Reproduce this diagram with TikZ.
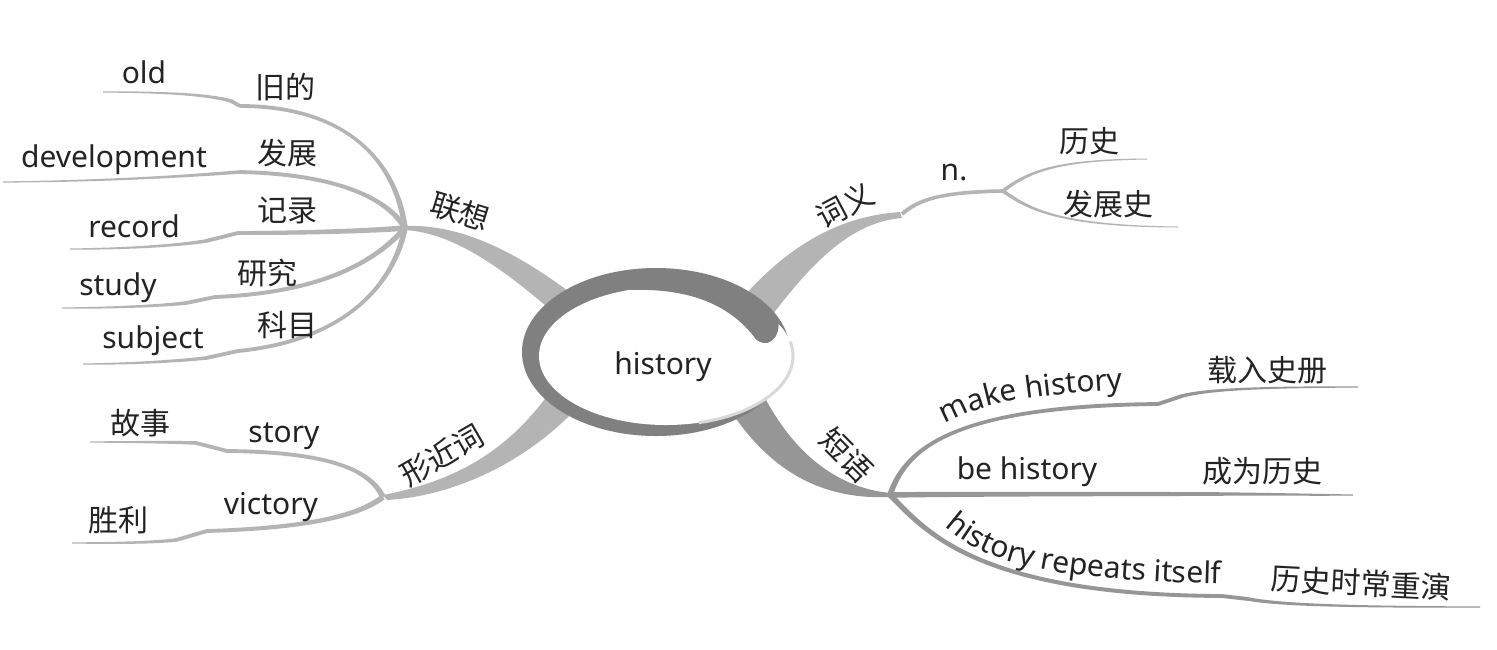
\documentclass[tikz,border=0pt]{standalone}
\usepackage{fontspec}
\setmainfont{Noto Sans}
\newfontfamily\cjk{Noto Sans CJK SC}
\usetikzlibrary{calc,decorations.text}
\definecolor{lightbr}{RGB}{180,180,180}
\definecolor{darkbr}{RGB}{150,150,150}
\definecolor{ringc}{RGB}{128,128,128}
\definecolor{txt}{RGB}{35,35,35}
\tikzset{
  lab/.style={text=txt, font=\fontsize{15}{18}\selectfont, inner sep=0pt},
  zh/.style={text=txt, font=\cjk\fontsize{15}{18}\selectfont, inner sep=0pt},
}
% tapered cubic segment: [colour] P0 P1 P2 P3 halfwidth0 halfwidth3 (pt)
\newcommand\tseg[7][lightbr]{%
 \pgfmathsetmacro\tpA{#6}\pgfmathsetmacro\tpD{#7}%
 \pgfmathsetmacro\tpB{(2*\tpA+\tpD)/3}\pgfmathsetmacro\tpC{(\tpA+2*\tpD)/3}%
 \fill[#1] ($(#2)!\tpA pt!90:(#3)$) .. controls ($(#3)!\tpB pt!-90:(#2)$) and ($(#4)!\tpC pt!90:(#5)$) .. ($(#5)!\tpD pt!-90:(#4)$)
  -- ($(#5)!\tpD pt!90:(#4)$) .. controls ($(#4)!\tpC pt!-90:(#5)$) and ($(#3)!\tpB pt!90:(#2)$) .. ($(#2)!\tpA pt!-90:(#3)$) -- cycle;}
% leaf: colour hub c1 c2 A B c3 c4 end
\newcommand\leaf[9]{%
 \tseg[#1]{#2}{#3}{#4}{#5}{1.4}{0.95}%
 \draw[#1,line width=1.9pt,line cap=round] (#5) -- (#6);%
 \tseg[#1]{#6}{#7}{#8}{#9}{0.9}{0.3}}
\begin{document}
\begin{tikzpicture}[x=0.5pt,y=-0.5pt]
\fill[white] (0,0) rectangle (1497,649);
\useasboundingbox (0,0) rectangle (1497,649);

% hubs
\coordinate (hL) at (405,228);
\coordinate (hS) at (383,497);
\coordinate (hM) at (900,215);
\coordinate (hN) at (1003,191);
\coordinate (hP) at (890,495);

% main branches
\fill[lightbr] (405,226) .. controls (460,224) and (515,250) .. (580,300) -- (560,318) .. controls (505,270) and (455,233) .. (405,230) -- cycle;
\fill[lightbr] (900,212) .. controls (840,216) and (790,245) .. (745,295) -- (770,318) .. controls (810,265) and (850,222) .. (902,218) -- cycle;
\fill[darkbr] (765,398) .. controls (790,445) and (830,487) .. (890,493) -- (890,497) .. controls (820,500) and (770,470) .. (730,410) -- cycle;
\fill[lightbr] (383,495) .. controls (450,482) and (505,455) .. (550,392) -- (575,410) .. controls (525,462) and (455,496) .. (387,500) -- cycle;

% leaves of 联想
\leaf{lightbr}{hL}{396,160}{345,106}{240,106}{231,101}{210,95}{170,92}{103,92}
\leaf{lightbr}{hL}{385,195}{330,174}{240,172}{240,172}{200,175}{120,181}{3,182}
\leaf{lightbr}{hL}{370,231}{300,233}{238,233}{206,241}{175,246}{120,249}{70,249}
\leaf{lightbr}{hL}{385,250}{340,292}{215,297}{186,303}{160,306}{110,308}{62,308}
\leaf{lightbr}{hL}{395,280}{350,340}{238,351}{206,358}{170,362}{120,364}{83,364}
% leaves of 形近词
\leaf{lightbr}{hS}{370,470}{330,452}{227,451}{196,443}{170,442}{130,442}{90,442}
\leaf{lightbr}{hS}{360,515}{310,528}{207,531}{176,540}{150,543}{110,543}{72,543}
% 词义
\tseg[lightbr]{902,214}{918,200}{940,192}{hN}{1.0}{0.9}
\tseg[lightbr]{hN}{1030,170}{1060,160}{1147,159}{0.9}{0.25}
\tseg[lightbr]{hN}{1030,210}{1060,226}{1178,227}{0.9}{0.25}
% 短语
\leaf{darkbr}{hP}{905,450}{950,406}{1158,404}{1182,396}{1205,390}{1250,387}{1358,387}
\leaf{darkbr}{hP}{950,494}{1100,494}{1215,494}{1215,494}{1260,494}{1320,495}{1353,495}
\leaf{darkbr}{hP}{925,530}{975,595}{1222,596}{1248,599}{1280,605}{1350,607}{1480,607}

% central ring
\fill[ringc] (656,352) ellipse [x radius=67pt, y radius=42pt];
\fill[white] (666,356) ellipse [x radius=63.5pt, y radius=34.5pt];
\draw[gray!30, line width=1.5pt] ($(666,356)+(-75:63.5pt and 34.5pt)$) arc [start angle=-75, end angle=12, x radius=63.5pt, y radius=34.5pt];
\fill[ringc] (630,290) .. controls (690,288) and (730,305) .. (755,338)
  .. controls (765,350) and (782,340) .. (778,318) -- (740,295) -- (640,280) -- cycle;
\node[lab] (center) at (663,367) {history};

% labels
\node[zh, rotate=-17] (lx) at (460,212) {联想};
\node[lab] (old) at (144,72) {old};
\node[zh] (jiude) at (285,87) {旧的};
\node[lab] (dev) at (114,160) {development};
\node[zh] (fazhan) at (287,153) {发展};
\node[lab] (rec) at (134,226) {record};
\node[zh] (jilu) at (287,210) {记录};
\node[lab] (study) at (118,288) {study};
\node[zh] (yanjiu) at (267,273) {研究};
\node[lab] (subj) at (153,341) {subject};
\node[zh] (kemu) at (287,325) {科目};

\node[zh, rotate=30] (xjc) at (442,455) {形近词};
\node[zh] (gushi) at (140,423) {故事};
\node[lab] (story) at (284,436) {story};
\node[zh] (shengli) at (118,520) {胜利};
\node[lab] (vict) at (271,507) {victory};

\node[zh, rotate=28] (cy) at (845,205) {词义};
\node[lab] (n) at (954,173) {n.};
\node[zh] (lishi) at (1089,141) {历史};
\node[zh] (fzs) at (1108,204) {发展史};

\node[zh, rotate=-45] (dy) at (847,455) {短语};
\path[decorate, decoration={text along path, text color=txt, text={|\fontsize{15}{18}\selectfont|make history}}]
  (945,424) .. controls (980,405) and (1015,395) .. (1140,389);
\node[lab] (behist) at (1027,472) {be history};
\path[decorate, decoration={text along path, text color=txt, text={|\fontsize{15}{18}\selectfont|history repeats itself}}]
  (945,526) .. controls (985,562) and (1040,580) .. (1232,584);
\node[zh] (zrsc) at (1267,370) {载入史册};
\node[zh] (cwls) at (1262,471) {成为历史};
\node[zh, rotate=-3] (lscz) at (1361,583) {历史时常重演};
\end{tikzpicture}
\end{document}
